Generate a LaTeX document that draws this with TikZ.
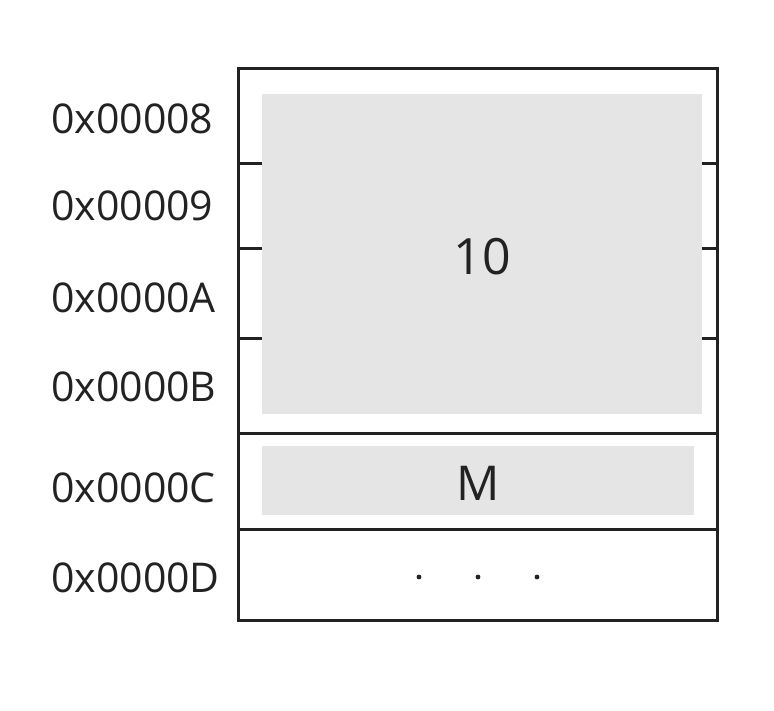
\documentclass[tikz,border=0pt]{standalone}
\usepackage{fontspec}
\setmainfont{Open Sans}
\definecolor{cellgray}{HTML}{E5E5E5}
\definecolor{ink}{HTML}{222222}
\begin{document}
\begin{tikzpicture}[x=1pt,y=-1pt,
  addr/.style={anchor=base west,inner sep=0pt,font=\fontsize{41}{41}\selectfont,text=ink},
  val/.style={anchor=base,inner sep=0pt,text=ink},
  frame/.style={draw=ink,line width=3pt},
  fillbox/.style={fill=cellgray,draw=none},
  dotmark/.style={fill=ink,draw=none}]
\useasboundingbox (0,0) rectangle (774,710);
% gray fills
\fill[fillbox] (262,94) rectangle (702,414);
\fill[fillbox] (262,446) rectangle (694,515);
% frame
\draw[frame] (238,68) rectangle (717,620);
\draw[frame] (238,433) -- (717,433);
\draw[frame] (238,529) -- (717,529);
\foreach \yy in {163,248,338}{
  \draw[frame] (238,\yy) -- (262,\yy);
  \draw[frame] (702,\yy) -- (717,\yy);
}
% values
\node[val,font=\fontsize{50}{50}\selectfont] (ten) at (482,274) {10};
\node[val,font=\fontsize{48}{48}\selectfont] (m) at (478,500) {M};
\foreach \xx in {419,478,537}{\fill[dotmark] (\xx,577) circle (2.4);}
% addresses
\node[addr] (a8) at (51,133) {0x00008};
\node[addr] (a9) at (51,220) {0x00009};
\node[addr] (aA) at (51,312) {0x0000A};
\node[addr] (aB) at (51,401) {0x0000B};
\node[addr] (aC) at (51,502) {0x0000C};
\node[addr] (aD) at (51,592) {0x0000D};
\end{tikzpicture}
\end{document}
